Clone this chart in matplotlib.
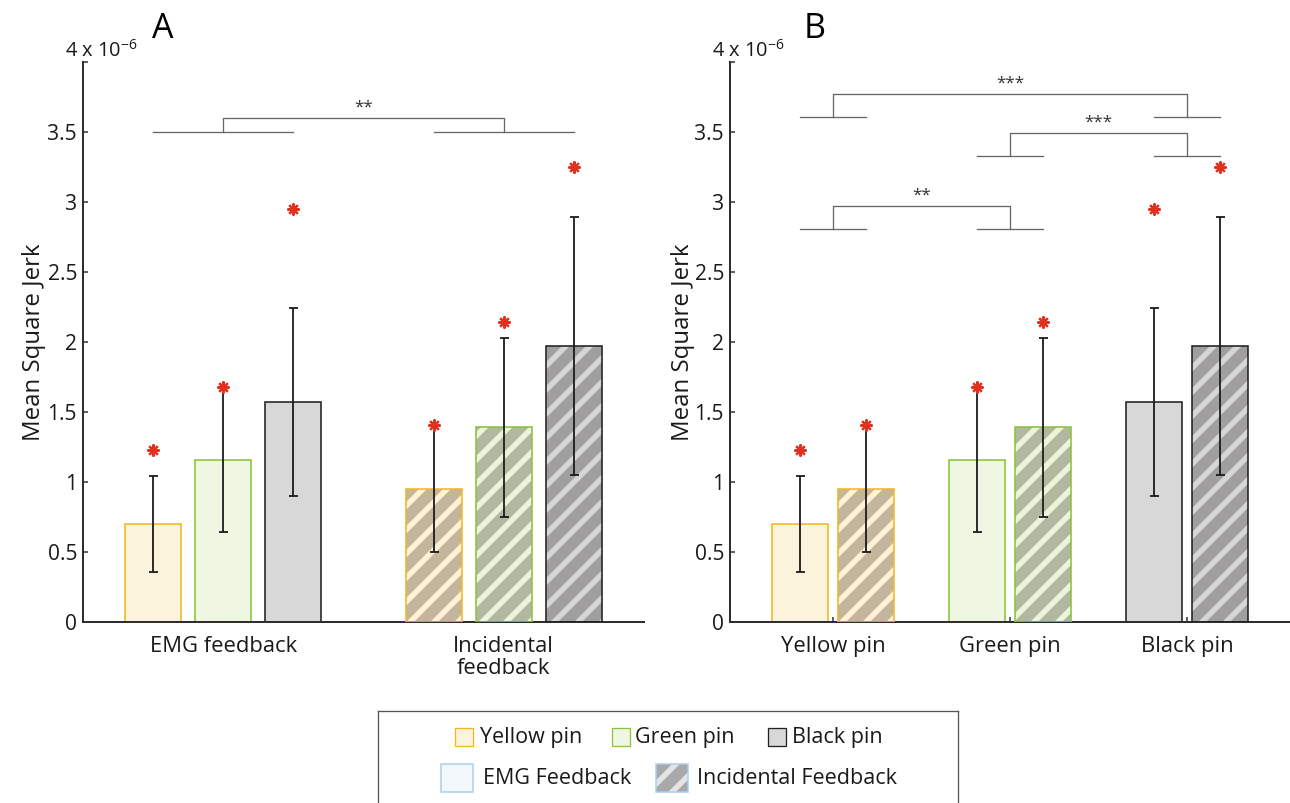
import matplotlib
matplotlib.use('Agg')
import matplotlib.pyplot as plt
from matplotlib.patches import Rectangle

# figure in pixels, dpi 72 so 1 pt == 1 px
W, H = 1290, 803
DPI = 72

plt.rcParams['font.family'] = ['Open Sans', 'DejaVu Sans']
plt.rcParams['mathtext.fontset'] = 'custom'
plt.rcParams['mathtext.rm'] = 'Open Sans'
plt.rcParams['mathtext.default'] = 'regular'
plt.rcParams['hatch.linewidth'] = 5.5

# ---- data (units of 1e-6) ----
pins = ['Yellow pin', 'Green pin', 'Black pin']
feedback = ['EMG feedback', 'Incidental\nfeedback']
emg_mean = [0.70, 1.16, 1.57]
emg_err = [0.34, 0.52, 0.67]
inc_mean = [0.95, 1.39, 1.97]
inc_err = [0.45, 0.64, 0.92]
emg_star = [1.23, 1.68, 2.95]
inc_star = [1.41, 2.14, 3.25]
yticks = [0, 0.5, 1, 1.5, 2, 2.5, 3, 3.5, 4]
ytick_labels = ['0', '0.5', '1', '1.5', '2', '2.5', '3', '3.5', '']

# significance brackets: (left group, right group, foot level, top level, text)
brackets_A = [(0, 1, 3.5, 3.6, '**')]
brackets_B = [(0, 2, 3.607, 3.77, '***'),
              (1, 2, 3.33, 3.49, '***'),
              (0, 1, 2.81, 2.97, '**')]

face_emg = ['#fbf3dc', '#eff6e1', '#d8d8d8']
edges = ['#f2b823', '#8cc43c', '#222222']
face_inc = ['#c3b69d', '#b1b89f', '#a09e9e']
stripe_inc = ['#fdf1d6', '#ecf5dc', '#d6d6d6']
star_col = '#e2301f'
brk_col = '#666666'
axis_col = '#2e2e2e'
txt_col = '#1a1a1a'


def draw_bar(ax, x, h, w, i, hatched):
    if hatched:
        ax.bar(x, h, w, color=face_inc[i], edgecolor=stripe_inc[i],
               hatch='/', linewidth=0, zorder=2)
        ax.bar(x, h, w, fill=False, edgecolor=edges[i], linewidth=1.6, zorder=3)
    else:
        ax.bar(x, h, w, color=face_emg[i], edgecolor=edges[i], linewidth=1.6, zorder=2)


def style_axes(ax):
    ax.set_ylim(0, 4)
    ax.set_yticks(yticks)
    ax.set_yticklabels(ytick_labels)
    for s in ['top', 'right']:
        ax.spines[s].set_visible(False)
    for s in ['left', 'bottom']:
        ax.spines[s].set_color(axis_col)
        ax.spines[s].set_linewidth(2)
    ax.tick_params(direction='in', length=5, width=1.5, color=axis_col,
                   labelsize=21, labelcolor=txt_col)
    ax.tick_params(axis='y', pad=6)
    ax.tick_params(axis='x', pad=14, labelsize=22)
    ax.annotate('4 x 10$^{-6}$', xy=(0, 1), xycoords='axes fraction',
                xytext=(-18, 5), textcoords='offset pixels',
                ha='left', va='baseline', fontsize=20, color=txt_col)


def draw_bracket(ax, xl, xr, half, foot, top, label):
    ax.plot([xl - half, xl + half], [foot, foot], color=brk_col, lw=1.3)
    ax.plot([xr - half, xr + half], [foot, foot], color=brk_col, lw=1.3)
    ax.plot([xl, xl, xr, xr], [foot, top, top, foot], color=brk_col, lw=1.3)
    ax.text((xl + xr) / 2, top + 0.02, label, ha='center', va='bottom',
            fontsize=17, color='#333333')


fig = plt.figure(figsize=(W / DPI, H / DPI), dpi=DPI)

# ---- panel A ----
axA = fig.add_axes([83 / W, (H - 622) / H, 561 / W, 560 / H])
posA_emg = [1, 2, 3]
posA_inc = [5, 6, 7]
for i in range(3):
    draw_bar(axA, posA_emg[i], emg_mean[i], 0.8, i, False)
    draw_bar(axA, posA_inc[i], inc_mean[i], 0.8, i, True)
axA.errorbar(posA_emg + posA_inc, emg_mean + inc_mean, yerr=emg_err + inc_err,
             fmt='none', ecolor=txt_col, elinewidth=1.8, capsize=4.5,
             capthick=1.8, zorder=4)
axA.plot(posA_emg + posA_inc, emg_star + inc_star, ls='none', marker=(8, 2, 0),
         ms=12, mew=2.2, color=star_col, zorder=5)
axA.set_xlim(0, 8)
axA.set_xticks([2, 6])
axA.set_xticklabels(feedback, linespacing=1.05)
style_axes(axA)
axA.set_ylabel('Mean Square Jerk', fontsize=24, color=txt_col)
axA.yaxis.set_label_coords(-0.066, 0.5)
for gl, gr, foot, top, lab in brackets_A:
    draw_bracket(axA, [2, 6][gl], [2, 6][gr], 1.0, foot, top, lab)

# ---- panel B ----
axB = fig.add_axes([730 / W, (H - 622) / H, 560 / W, 560 / H])
groups = [1, 2, 3]
off = 0.188
bw = 0.316
for i, g in enumerate(groups):
    draw_bar(axB, g - off, emg_mean[i], bw, i, False)
    draw_bar(axB, g + off, inc_mean[i], bw, i, True)
xe = [g - off for g in groups]
xi = [g + off for g in groups]
axB.errorbar(xe + xi, emg_mean + inc_mean, yerr=emg_err + inc_err,
             fmt='none', ecolor=txt_col, elinewidth=1.8, capsize=4.5,
             capthick=1.8, zorder=4)
axB.plot(xe + xi, emg_star + inc_star, ls='none', marker=(8, 2, 0),
         ms=12, mew=2.2, color=star_col, zorder=5)
axB.set_xlim(0.418, 3.582)
axB.set_xticks(groups)
axB.set_xticklabels(pins)
style_axes(axB)
axB.set_ylabel('Mean Square Jerk', fontsize=24, color=txt_col)
axB.yaxis.set_label_coords(-0.062, 0.5)
for gl, gr, foot, top, lab in brackets_B:
    draw_bracket(axB, groups[gl], groups[gr], off, foot, top, lab)

# ---- panel letters ----
fig.text(163 / W, 1 - 38 / H, 'A', fontsize=34, ha='center', va='baseline')
fig.text(815 / W, 1 - 38 / H, 'B', fontsize=34, ha='center', va='baseline')

# ---- legend box (pixel coordinates) ----
lax = fig.add_axes([378 / W, 0, (958 - 378) / W, (H - 711) / H])
lax.set_xlim(378, 958)
lax.set_ylim(H, 711)
lax.set_xticks([])
lax.set_yticks([])
lax.spines['bottom'].set_visible(False)
for s in ['top', 'left', 'right']:
    lax.spines[s].set_color('#555555')
    lax.spines[s].set_linewidth(1.3)

row1 = 737
sw1 = [455, 612, 768]
tx1 = [480, 635, 792]
for i in range(3):
    lax.add_patch(Rectangle((sw1[i], row1 - 9), 18, 18, facecolor=face_emg[i],
                            edgecolor=edges[i], lw=1.3))
    lax.text(tx1[i], row1, pins[i], fontsize=21.5, va='center', ha='left',
             color=txt_col)

row2 = 778
lax.add_patch(Rectangle((441, row2 - 14), 32, 28, facecolor='#f2f7fc',
                        edgecolor='#a8d0ec', lw=1.5))
lax.text(483, row2, 'EMG Feedback', fontsize=21.5, va='center', ha='left',
         color=txt_col)
lax.add_patch(Rectangle((656, row2 - 14), 32, 28, facecolor='#a8a9ab',
                        edgecolor='#e4e4e4', hatch='/', lw=0))
lax.add_patch(Rectangle((656, row2 - 14), 32, 28, fill=False,
                        edgecolor='#a8d0ec', lw=1.5))
lax.text(697, row2, 'Incidental Feedback', fontsize=21.5, va='center', ha='left',
         color=txt_col)

fig.savefig('out.png', dpi=DPI)
